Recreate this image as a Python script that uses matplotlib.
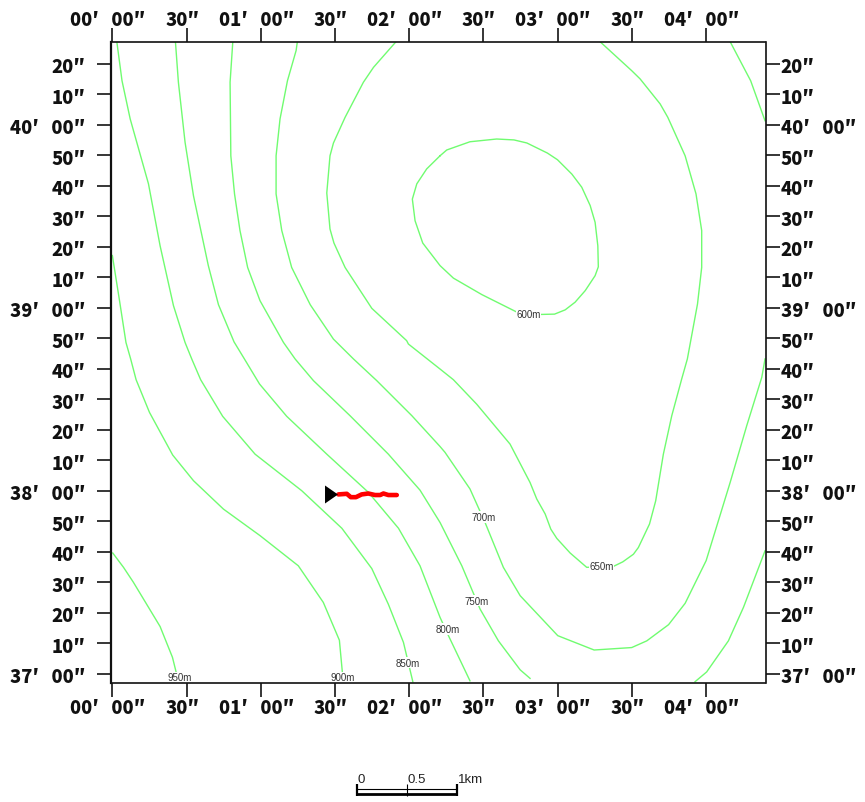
import matplotlib
matplotlib.use("Agg")
import matplotlib.pyplot as plt
from matplotlib.transforms import ScaledTranslation

# all positions in arc seconds: lon from 00'00", lat from 37'00"
c950 = [(0.15, 39.6), (4.5, 34.9), (8.5, 30.0), (19.3, 15.5), (24.3, 5.4), (25.8, 0.5)]
c900 = [(0.0, 137.1), (2.8, 122.8), (5.5, 108.6), (7.4, 103.2), (9.6, 96.4), (15.0, 85.7),
        (24.4, 71.7), (32.8, 63.3), (44.9, 54.0), (59.7, 45.3), (75.2, 35.4), (85.3, 23.4),
        (91.8, 11.0), (93.0, 0.5)]
c850 = [(1.8, 207.2), (3.9, 194.4), (7.2, 181.9), (14.6, 160.6), (19.3, 140.3), (24.7, 120.7),
        (29.4, 108.6), (32.1, 103.2), (35.7, 96.4), (44.6, 84.4), (57.7, 72.0), (76.6, 60.0),
        (92.8, 47.7), (104.9, 34.5), (111.6, 22.8), (117.7, 10.3), (121.5, -2.6)]
c800 = [(25.5, 207.2), (26.7, 193.9), (29.4, 174.2), (32.8, 156.7), (38.8, 133.8), (42.9, 121.0),
        (49.2, 108.8), (53.4, 103.2), (59.5, 95.0), (70.5, 84.4), (86.7, 72.0), (103.5, 59.5),
        (115.7, 47.7), (124.4, 35.4), (132.5, 18.5), (135.9, 12.5), (144.6, -2.3)]
c750 = [(48.7, 207.2), (47.6, 193.9), (47.9, 169.8), (49.4, 157.3), (51.6, 145.3), (54.7, 133.2),
        (59.7, 122.3), (69.2, 108.6), (73.9, 103.2), (81.3, 96.1), (96.1, 84.6), (111.6, 72.0),
        (124.4, 60.2), (132.5, 49.6), (141.3, 35.4), (148.7, 21.2), (156.1, 10.8), (164.9, 1.3),
        (168.9, -1.5)]
c700 = [(74.8, 207.2), (74.3, 204.3), (70.8, 194.4), (67.8, 181.9), (66.2, 169.8), (66.2, 157.3),
        (68.5, 145.3), (72.5, 133.2), (80.0, 121.0), (89.4, 109.7), (97.5, 103.2), (106.9, 96.1),
        (121.1, 84.6), (132.5, 74.5), (134.5, 72.6), (144.6, 60.6), (150.7, 49.6), (158.1, 34.9),
        (164.9, 25.6), (180.1, 12.5), (194.8, 7.8), (210.0, 8.6), (216.1, 10.8), (224.9, 16.1),
        (231.6, 23.1), (240.1, 37.1), (249.8, 62.7), (256.5, 81.3), (262.6, 97.2), (263.9, 103.2)]
c650 = [(114.7, 207.2), (105.6, 198.8), (101.5, 193.9), (94.1, 182.4), (89.4, 174.0), (88.0, 169.8),
        (86.7, 157.6), (88.0, 145.8), (89.6, 141.2), (94.1, 133.2), (104.9, 119.8), (119.0, 109.2),
        (119.7, 108.1), (132.5, 99.9), (137.9, 96.4), (147.3, 88.4), (160.8, 75.3), (168.9, 62.7),
        (171.6, 57.3), (175.0, 52.4), (177.3, 47.4), (179.7, 44.4), (185.1, 39.6), (191.8, 34.9),
        (202.6, 35.2), (206.4, 36.7), (210.7, 39.2), (212.7, 41.4), (217.2, 49.1), (219.7, 56.7),
        (222.8, 72.0), (226.2, 84.6), (230.2, 96.6), (232.5, 103.2), (236.6, 121.2), (238.3, 133.2),
        (238.3, 145.3), (236.0, 157.3), (231.6, 169.8), (224.6, 182.4), (221.5, 186.8), (213.4, 195.0),
        (210.0, 197.7), (197.2, 207.2)]
c600 = [(132.5, 169.8), (127.1, 165.5), (123.1, 160.6), (121.3, 155.6), (122.4, 148.5), (125.5, 141.2),
        (132.5, 133.8), (137.9, 129.7), (149.4, 124.3), (164.2, 118.3), (173.4, 117.8), (178.8, 117.9),
        (183.1, 119.3), (187.1, 121.8), (191.2, 125.6), (195.2, 130.5), (196.5, 133.4), (196.3, 140.3),
        (195.2, 148.0), (193.2, 153.5), (189.8, 159.5), (185.8, 163.8), (180.0, 168.5), (175.9, 170.7),
        (167.6, 174.0), (162.4, 175.0), (155.4, 175.3), (144.6, 174.4), (135.2, 171.7), (132.5, 169.8)]
c_top_right = [(249.8, 207.2), (258.1, 194.4), (263.9, 181.3)]
c_bottom_right = [(263.9, 40.3), (255.2, 21.8), (249.1, 10.8), (240.3, 0.6), (235.6, -2.6)]

contours = [c950, c900, c850, c800, c750, c700, c650, c600, c_top_right, c_bottom_right]

label_text = ["600m", "650m", "700m", "750m", "800m", "850m", "900m", "950m"]
label_lon = [168.3, 197.8, 150.0, 147.3, 135.7, 119.5, 93.3, 27.4]
label_lat = [118.0, 35.2, 51.4, 24.0, 14.7, 3.6, -1.1, -1.1]

track_lon = [91.4, 94.8, 96.4, 98.5, 100.8, 103.5, 106.2, 108.3, 109.6, 111.6, 115.0]
track_lat = [58.8, 59.0, 57.9, 57.9, 58.8, 59.1, 58.6, 58.6, 59.1, 58.6, 58.6]
start_lon = 88.6
start_lat = 58.9

x_ticks = [0, 30, 60, 90, 120, 150, 180, 210, 240]
x_labels = ["00′   00″", "30″", "01′   00″", "30″", "02′   00″", "30″", "03′   00″", "30″", "04′   00″"]
y_ticks = list(range(0, 201, 10))
y_labels = ["37′   00″", "10″", "20″", "30″", "40″", "50″",
            "38′   00″", "10″", "20″", "30″", "40″", "50″",
            "39′   00″", "10″", "20″", "30″", "40″", "50″",
            "40′   00″", "10″", "20″"]

scale_ticks = [0, 0.5, 1]
scale_labels = ["0", "0.5", "1km"]

W, H = 865, 803
FONT = ["Noto Sans CJK JP", "DejaVu Sans"]
PT = 72 / 100  # pixels to points at dpi 100


def px_shift(fig, dx, dy):
    return ScaledTranslation(dx / 100, dy / 100, fig.dpi_scale_trans)


def style_label(lab):
    lab.set_family(FONT)
    lab.set_fontweight("black")
    lab.set_fontsize(13.2)
    lab.set_color("#111111")


def main():
    fig = plt.figure(figsize=(W / 100, H / 100), dpi=100)
    ax = fig.add_axes([111.5 / W, 1 - 683.8 / H, 654 / W, 640.8 / H])
    ax.set_xlim(-0.35, 264.1)
    ax.set_ylim(-2.95, 207.1)

    for c in contours:
        ax.plot([p[0] for p in c], [p[1] for p in c], color="#70fc70", lw=1.0)

    # keep the spines on top of the label backgrounds
    for t, x, y in zip(label_text, label_lon, label_lat):
        ax.text(x, y, t, ha="center", va="center", fontsize=7, color="#333333",
                family="Liberation Sans", clip_on=False,
                bbox=dict(facecolor="white", edgecolor="none", pad=0.4), zorder=2.2)

    ax.plot(track_lon, track_lat, color="#ff0000", lw=3.3, solid_capstyle="round",
            solid_joinstyle="round", zorder=4)
    ax.plot([start_lon], [start_lat], linestyle="none", color="black", markersize=18 * PT,
            marker=[(-0.72, -1), (-0.72, 1), (0.72, 0)], markeredgewidth=0, zorder=5)

    ax.set_xticks(x_ticks)
    ax.set_xticklabels(x_labels)
    ax.set_yticks(y_ticks)
    ax.set_yticklabels(y_labels)
    ax.tick_params(axis="x", top=True, labeltop=True, length=14 * PT, width=1.1, pad=1)
    ax.tick_params(axis="y", right=True, labelright=True, length=14 * PT, width=1.1, pad=1)

    for tick in ax.xaxis.get_major_ticks():
        style_label(tick.label1)
        style_label(tick.label2)
        tick.label1.set_transform(tick.label1.get_transform() + px_shift(fig, -4.5, 0))
        tick.label2.set_transform(tick.label2.get_transform() + px_shift(fig, -4.5, -2))
    for tick in ax.yaxis.get_major_ticks():
        style_label(tick.label1)
        style_label(tick.label2)
        tick.label1.set_transform(tick.label1.get_transform() + px_shift(fig, -11, -1))
        tick.label2.set_transform(tick.label2.get_transform() + px_shift(fig, 0, -1))

    for s in ax.spines.values():
        s.set_linewidth(1.2)
        s.set_color("#111111")
    ax.spines["left"].set_linewidth(1.6)

    # scale bar, 1 km wide
    sb = fig.add_axes([357.2 / W, 1 - 797 / H, 100 / W, 12 / H])
    sb.set_xlim(0, 1)
    sb.set_ylim(0, 1)
    sb.axis("off")
    sb.plot([0, 1], [0.58, 0.58], color="black", lw=0.8, clip_on=False, solid_capstyle="butt")
    sb.plot([0, 1], [0.13, 0.13], color="black", lw=2.0, clip_on=False, solid_capstyle="butt")
    for v in scale_ticks:
        w = 0.8 if v == 0.5 else 1.6
        sb.plot([v, v], [0, 1], color="black", lw=w, clip_on=False, solid_capstyle="butt")
    for v, t in zip(scale_ticks, scale_labels):
        sb.text(v + 0.005, 1.42, t, ha="left", va="center", fontsize=9.5, color="#222222",
                family="Liberation Sans", clip_on=False)

    fig.savefig("out.png", dpi=100)


if __name__ == "__main__":
    main()
